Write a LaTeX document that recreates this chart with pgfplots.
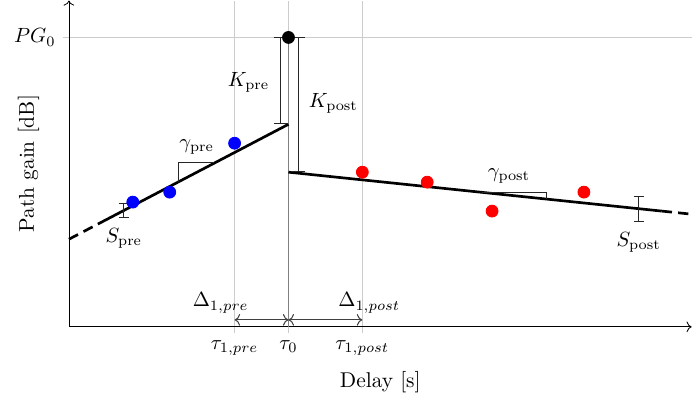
\documentclass[border=0pt]{standalone}
\usepackage{pgfplots}
\pgfplotsset{compat=1.18}
\usetikzlibrary{arrows.meta}

\begin{document}
\begin{tikzpicture}[font=\fontsize{10.4}{12.5}\selectfont]
\begin{axis}[
  x=0.485pt, y=0.485pt,
  xmin=0, xmax=624, ymin=0, ymax=327,
  axis lines=left,
  axis line style={->},
  clip=false,
  grid=major,
  grid style={gray!40, line width=0.5pt},
  tick style={gray!40, line width=0.5pt},
  tick align=outside,
  major tick length=3pt,
  xtick={166,220,294},
  xticklabels={$\tau_{1,pre}$,$\tau_0$,$\tau_{1,post}$},
  ytick={290},
  yticklabels={$PG_0$},
  xlabel={Delay [s]},
  ylabel={Path gain [dB]},
  x label style={at={(axis description cs:0.5,-0.168)}, anchor=center},
  y label style={at={(axis description cs:-0.065,0.5)}, anchor=center},
]
% margin on the left of the labels
\path (axis cs:0,0) ++(-33.5pt,0pt);

% path from the strongest component down to the delay axis
\addplot[gray, line width=0.8pt] coordinates {(220,0) (220,290)};

% pre-cursor fit
\addplot[black, line width=1.3pt, dash pattern=on 5pt off 3pt] coordinates {(0,87.8) (29,103)};
\addplot[black, line width=1.3pt] coordinates {(29,103) (220,203)};
% post-cursor fit
\addplot[black, line width=1.3pt] coordinates {(220,155) (594,116)};
\addplot[black, line width=1.3pt, dash pattern=on 5pt off 3pt] coordinates {(594,116) (624,112.9)};

% measured components
\addplot[only marks, mark=*, mark size=2.9pt, blue] coordinates {(64,125) (101,135) (166,184)};
\addplot[only marks, mark=*, mark size=2.9pt, red] coordinates {(294,155) (359,145) (424,116) (516,135)};
\addplot[only marks, mark=*, mark size=2.9pt, black] coordinates {(220,290)};

% K offsets
\draw[black!85, line width=0.5pt, {Bar[width=6.8pt]}-{Bar[width=6.8pt]}] (axis cs:212,203) -- (axis cs:212,290);
\draw[black!85, line width=0.5pt, {Bar[width=6.8pt]}-{Bar[width=6.8pt]}] (axis cs:230,155) -- (axis cs:230,290);
\node at (axis cs:180,245) {$K_{\mathrm{pre}}$};
\node at (axis cs:265,224) {$K_{\mathrm{post}}$};

% slope indicators
\draw[black!85, line width=0.5pt] (axis cs:110,145.4) -- (axis cs:110,164.5) -- (axis cs:145,164.5);
\draw[black!85, line width=0.5pt] (axis cs:414,134.8) -- (axis cs:479,134.8) -- (axis cs:479,128);
\node at (axis cs:128,180) {$\gamma_{\mathrm{pre}}$};
\node at (axis cs:441,151) {$\gamma_{\mathrm{post}}$};

% spread around the fits
\draw[black!85, line width=0.5pt, {Bar[width=5pt]}-{Bar[width=5pt]}] (axis cs:55,109) -- (axis cs:55,124);
\draw[black!85, line width=0.5pt, {Bar[width=5pt]}-{Bar[width=5pt]}] (axis cs:571,105) -- (axis cs:571,131);
\node at (axis cs:55,89) {$S_{\mathrm{pre}}$};
\node at (axis cs:571,85) {$S_{\mathrm{post}}$};

% delay spacings
\draw[black!75, line width=0.5pt, <->] (axis cs:166,7) -- (axis cs:220,7);
\draw[black!75, line width=0.5pt, <->] (axis cs:220,7) -- (axis cs:294,7);
\node at (axis cs:152,24) {$\Delta_{1,pre}$};
\node at (axis cs:301,24) {$\Delta_{1,post}$};
\end{axis}
\end{tikzpicture}
\end{document}
